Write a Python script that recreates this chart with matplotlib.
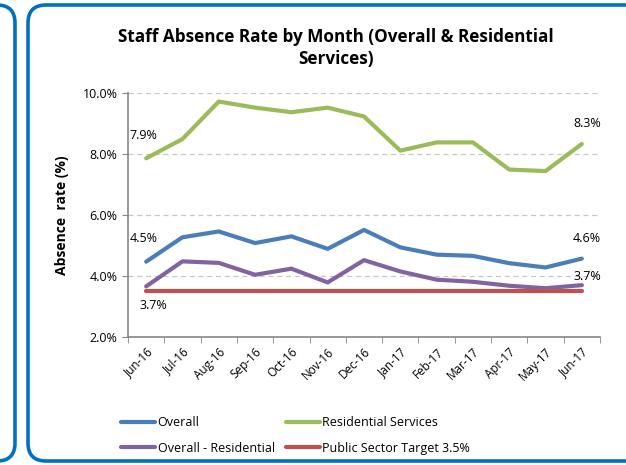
import matplotlib
matplotlib.use("Agg")
import matplotlib.pyplot as plt
from matplotlib.patches import FancyBboxPatch
from matplotlib.ticker import FuncFormatter, MultipleLocator

months = ["Jun-16", "Jul-16", "Aug-16", "Sep-16", "Oct-16", "Nov-16", "Dec-16",
          "Jan-17", "Feb-17", "Mar-17", "Apr-17", "May-17", "Jun-17"]
overall = [4.47, 5.27, 5.46, 5.08, 5.30, 4.89, 5.51, 4.94, 4.70, 4.66, 4.42, 4.28, 4.57]
residential = [7.86, 8.49, 9.72, 9.52, 9.37, 9.52, 9.23, 8.11, 8.38, 8.38, 7.49, 7.44, 8.33]
overall_minus_res = [3.66, 4.48, 4.43, 4.04, 4.24, 3.79, 4.52, 4.15, 3.88, 3.81, 3.68, 3.60, 3.70]
target = [3.5] * len(months)

plt.rcParams['font.family'] = ['Open Sans', 'DejaVu Sans']

fig = plt.figure(figsize=(6.26, 4.65), dpi=100)

# background frame panels (pixel coordinates)
bg = fig.add_axes([0, 0, 1, 1], zorder=-1)
bg.set_xlim(0, 626)
bg.set_ylim(465, 0)
bg.axis("off")
border = "#0070C0"
bg.add_patch(FancyBboxPatch((-60, 5), 75, 456, boxstyle="round,pad=0,rounding_size=18",
                            fill=False, ec=border, lw=2.6))
bg.add_patch(FancyBboxPatch((28, 5), 640, 456, boxstyle="round,pad=0,rounding_size=18",
                            fill=False, ec=border, lw=2.6))

ax = fig.add_axes([128 / 626, 1 - 337 / 465, 472 / 626, 244 / 465])
x = list(range(len(months)))
series = [
    (overall, "#4A7EBB", "Overall"),
    (residential, "#9BBB59", "Residential Services"),
    (overall_minus_res, "#8064A2", "Overall - Residential"),
    (target, "#C0504D", "Public Sector Target 3.5%"),
]
lines = {}
for vals, col, name in series:
    ln, = ax.plot(x, vals, color=col, lw=3, solid_capstyle="round", label=name, zorder=3)
    lines[name] = ln

ax.set_xlim(-0.5, len(months) - 0.5)
ax.set_ylim(2, 10)
ax.yaxis.set_major_locator(MultipleLocator(2))
ax.yaxis.set_major_formatter(FuncFormatter(lambda v, p: "%.1f%%" % v))
ax.grid(axis="y", color="#C8C8C8", ls=(0, (4, 3)), lw=0.9)
ax.set_axisbelow(True)

ax.set_xticks(x)
ax.set_xticklabels(months, rotation=45, ha="right", rotation_mode="anchor", fontsize=8.5)
ax.tick_params(axis="x", length=0, pad=6)
ax.set_xticks([i - 0.5 for i in range(len(months) + 1)], minor=True)
ax.tick_params(axis="x", which="minor", length=4, color="#868686")
ax.tick_params(axis="y", length=4, color="#868686", labelsize=9)

for s in ["top", "right"]:
    ax.spines[s].set_visible(False)
for s in ["left", "bottom"]:
    ax.spines[s].set_color("#868686")
    ax.spines[s].set_linewidth(1.2)

ax.set_ylabel("Absence  rate (%)", fontsize=10, fontweight="bold", labelpad=10)

# data labels on first and last points
ax.annotate("%.1f%%" % residential[0], (0, residential[0]), xytext=(-12, 14),
            textcoords="offset points", fontsize=9, ha="left")
ax.annotate("%.1f%%" % overall[0], (0, overall[0]), xytext=(-12, 14),
            textcoords="offset points", fontsize=9, ha="left")
ax.annotate("%.1f%%" % overall_minus_res[0], (0, overall_minus_res[0]), xytext=(-5, -16),
            textcoords="offset points", fontsize=9, ha="left")
n = len(months) - 1
ax.annotate("%.1f%%" % residential[n], (n, residential[n]), xytext=(14, 12),
            textcoords="offset points", fontsize=9, ha="right")
ax.annotate("%.1f%%" % overall[n], (n, overall[n]), xytext=(14, 12),
            textcoords="offset points", fontsize=9, ha="right")
ax.annotate("%.1f%%" % overall_minus_res[n], (n, overall_minus_res[n]), xytext=(14, 4),
            textcoords="offset points", fontsize=9, ha="right")

fig.text(336 / 626, 1 - 48 / 465, "Staff Absence Rate by Month (Overall & Residential\nServices)",
         ha="center", va="center", fontsize=12.3, fontweight="bold", linespacing=1.3)

# legend fills column-first, so order gives rows: Overall/Residential, O-R/Target
order = ["Overall", "Overall - Residential", "Residential Services", "Public Sector Target 3.5%"]
fig.legend([lines[k] for k in order], order, ncol=2, frameon=False,
           loc="upper left", bbox_to_anchor=(110 / 626, 1 - 405 / 465),
           fontsize=9, handlelength=2.7, handletextpad=0.2, columnspacing=0.9,
           labelspacing=1.0)

fig.savefig("out.png", dpi=100)
